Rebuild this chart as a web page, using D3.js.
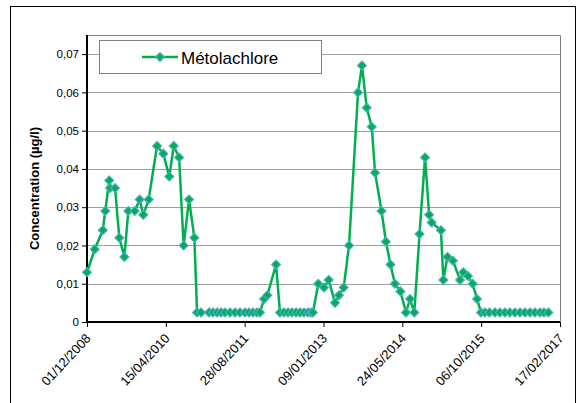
<!DOCTYPE html>
<html>
<head>
<meta charset="utf-8">
<script src="https://cdn.jsdelivr.net/npm/d3@7"></script>
<style>
  body { margin: 0; background: #fff; }
  text { font-family: "Liberation Sans", Arial, sans-serif; }
</style>
</head>
<body>
<div class="chart"></div>
<script>
// dates of the samples (jj/mm/aaaa) and concentrations in µg/l
const dates = [
  "01/12/2008","19/01/2009","11/03/2009","27/03/2009","21/04/2009","26/04/2009","28/05/2009","24/06/2009",
  "26/07/2009","20/08/2009","30/09/2009","31/10/2009","23/11/2009","27/12/2009","18/02/2010","30/03/2010",
  "07/05/2010","04/06/2010","08/07/2010","06/08/2010","09/09/2010","13/10/2010","30/10/2010","24/11/2010",
  "14/01/2011","08/02/2011","06/03/2011","31/03/2011","25/04/2011","27/05/2011","28/06/2011","29/07/2011",
  "30/08/2011","24/09/2011","20/10/2011","14/11/2011","03/12/2011","29/12/2011","19/01/2012","14/03/2012",
  "08/04/2012","03/05/2012","29/05/2012","23/06/2012","19/07/2012","13/08/2012","07/09/2012","03/10/2012",
  "22/10/2012","03/11/2012","07/12/2012","12/01/2013","11/02/2013","23/03/2013","17/04/2013","17/05/2013",
  "20/06/2013","16/08/2013","10/09/2013","10/10/2013","11/11/2013","02/12/2013","12/01/2014","09/02/2014",
  "10/03/2014","07/04/2014","12/05/2014","16/06/2014","12/07/2014","08/08/2014","10/09/2014","15/10/2014",
  "10/11/2014","26/11/2014","24/01/2015","08/02/2015","06/03/2015","10/04/2015","25/05/2015","15/06/2015",
  "14/07/2015","13/08/2015","10/09/2015","05/10/2015","30/10/2015","27/11/2015","02/01/2016","02/02/2016",
  "05/03/2016","05/04/2016","07/05/2016","08/06/2016","10/07/2016","11/08/2016","11/09/2016","13/10/2016",
  "07/11/2016","05/12/2016"
];
const metolachlore = [
  0.013, 0.019, 0.024, 0.029, 0.037, 0.035, 0.035, 0.022,
  0.017, 0.029, 0.029, 0.032, 0.028, 0.032, 0.046, 0.044,
  0.038, 0.046, 0.043, 0.020, 0.032, 0.022, 0.0025, 0.0025,
  0.0025, 0.0025, 0.0025, 0.0025, 0.0025, 0.0025, 0.0025, 0.0025,
  0.0025, 0.0025, 0.0025, 0.0025, 0.0025, 0.006, 0.007, 0.015,
  0.0025, 0.0025, 0.0025, 0.0025, 0.0025, 0.0025, 0.0025, 0.0025,
  0.0025, 0.0025, 0.010, 0.009, 0.011, 0.005, 0.007, 0.009,
  0.020, 0.060, 0.067, 0.056, 0.051, 0.039, 0.029, 0.021,
  0.015, 0.010, 0.008, 0.0025, 0.006, 0.0025, 0.023, 0.043,
  0.028, 0.026, 0.024, 0.011, 0.017, 0.016, 0.011, 0.013,
  0.012, 0.010, 0.006, 0.0025, 0.0025, 0.0025, 0.0025, 0.0025,
  0.0025, 0.0025, 0.0025, 0.0025, 0.0025, 0.0025, 0.0025, 0.0025,
  0.0025, 0.0025
];
const xTickLabels = ["01/12/2008","15/04/2010","28/08/2011","09/01/2013","24/05/2014","06/10/2015","17/02/2017"];
const yTicks = [0, 0.01, 0.02, 0.03, 0.04, 0.05, 0.06, 0.07];
const seriesName = "Métolachlore";
const yTitle = "Concentration (µg/l)";

const parse = d3.timeParse("%d/%m/%Y");
const fmtY = v => v === 0 ? "0" : d3.format(".2f")(v).replace(".", ",");

let chart = {
  svg: {},
  cfg: { W: 585, H: 403, left: 87, right: 560, top: 35, bottom: 322 },
  init: function () {
    this.svg = d3.select('.chart').append('svg')
      .attr('width', this.cfg.W)
      .attr('height', this.cfg.H);
    this.data = dates.map((d, i) => ({ date: parse(d), value: metolachlore[i] }));
    this.x = d3.scaleTime()
      .domain([parse(xTickLabels[0]), parse(xTickLabels[xTickLabels.length - 1])])
      .range([this.cfg.left, this.cfg.right]);
    this.y = d3.scaleLinear().domain([0, 0.075]).range([this.cfg.bottom, this.cfg.top]);
    this.render();
  },
  render: function () {
    const c = this.cfg, svg = this.svg, x = this.x, y = this.y;
    const green = '#00b050', edge = '#4bacc6';

    // cadre extérieur
    svg.append('rect')
      .attr('x', 10.5).attr('y', 6.5)
      .attr('width', 565).attr('height', 402)
      .attr('fill', 'none').attr('stroke', '#000').attr('stroke-width', 1);

    // quadrillage horizontal
    svg.append('g')
      .selectAll('line')
      .data(yTicks.filter(v => v > 0))
      .enter().append('line')
      .attr('x1', c.left).attr('x2', c.right)
      .attr('y1', d => Math.round(y(d)) + 0.5).attr('y2', d => Math.round(y(d)) + 0.5)
      .attr('stroke', '#a0a0a0');

    // bord haut et droit de la zone de tracé
    svg.append('path')
      .attr('d', `M${c.left},${c.top + 0.5}H${c.right + 0.5}V${c.bottom}`)
      .attr('fill', 'none').attr('stroke', '#808080');

    // axe Y
    const yAxis = d3.axisLeft(y).tickValues(yTicks).tickSize(5).tickFormat(fmtY);
    const gy = svg.append('g')
      .attr('transform', `translate(${c.left},0)`)
      .call(yAxis);
    gy.select('.domain').attr('stroke-width', 2).attr('d', `M0,${c.top}V${c.bottom}`);
    gy.selectAll('text').attr('font-size', 11.5).attr('fill', '#000').attr('x', -8);

    // axe X
    const xAxis = d3.axisBottom(x).tickValues(xTickLabels.map(parse)).tickSize(5)
      .tickFormat((d, i) => xTickLabels[i]);
    const gx = svg.append('g')
      .attr('transform', `translate(0,${c.bottom})`)
      .call(xAxis);
    gx.select('.domain').attr('stroke-width', 2).attr('d', `M${c.left - 1},0H${c.right}`);
    gx.selectAll('text')
      .attr('font-size', 13).attr('fill', '#000')
      .attr('text-anchor', 'end')
      .attr('dy', 0).attr('y', 0)
      .attr('transform', 'translate(4,17) rotate(-47)');

    // titre axe Y
    svg.append('text')
      .attr('transform', `translate(39,${(c.top + c.bottom) / 2 + 10}) rotate(-90)`)
      .attr('text-anchor', 'middle')
      .attr('font-size', 13).attr('font-weight', 'bold')
      .text(yTitle);

    // courbe
    const line = d3.line().x(d => x(d.date)).y(d => y(d.value));
    svg.append('path')
      .attr('d', line(this.data))
      .attr('fill', 'none').attr('stroke', green).attr('stroke-width', 2.5)
      .attr('stroke-linejoin', 'round');

    const diamond = d3.symbol().type(d3.symbolDiamond2).size(50);
    svg.append('g').selectAll('path')
      .data(this.data)
      .enter().append('path')
      .attr('d', diamond)
      .attr('transform', d => `translate(${x(d.date)},${y(d.value)})`)
      .attr('fill', green).attr('stroke', edge).attr('stroke-width', 1.2);

    // légende
    const lg = svg.append('g');
    lg.append('rect')
      .attr('x', 99.5).attr('y', 40.5).attr('width', 222).attr('height', 33)
      .attr('fill', '#fff').attr('stroke', '#808080');
    lg.append('line')
      .attr('x1', 142).attr('x2', 178).attr('y1', 57).attr('y2', 57)
      .attr('stroke', green).attr('stroke-width', 2.5);
    lg.append('path')
      .attr('d', diamond)
      .attr('transform', 'translate(160,57)')
      .attr('fill', green).attr('stroke', edge).attr('stroke-width', 1.2);
    lg.append('text')
      .attr('x', 181).attr('y', 63.5)
      .attr('font-size', 17)
      .text(seriesName);
  }
};

chart.init();
</script>
</body>
</html>
